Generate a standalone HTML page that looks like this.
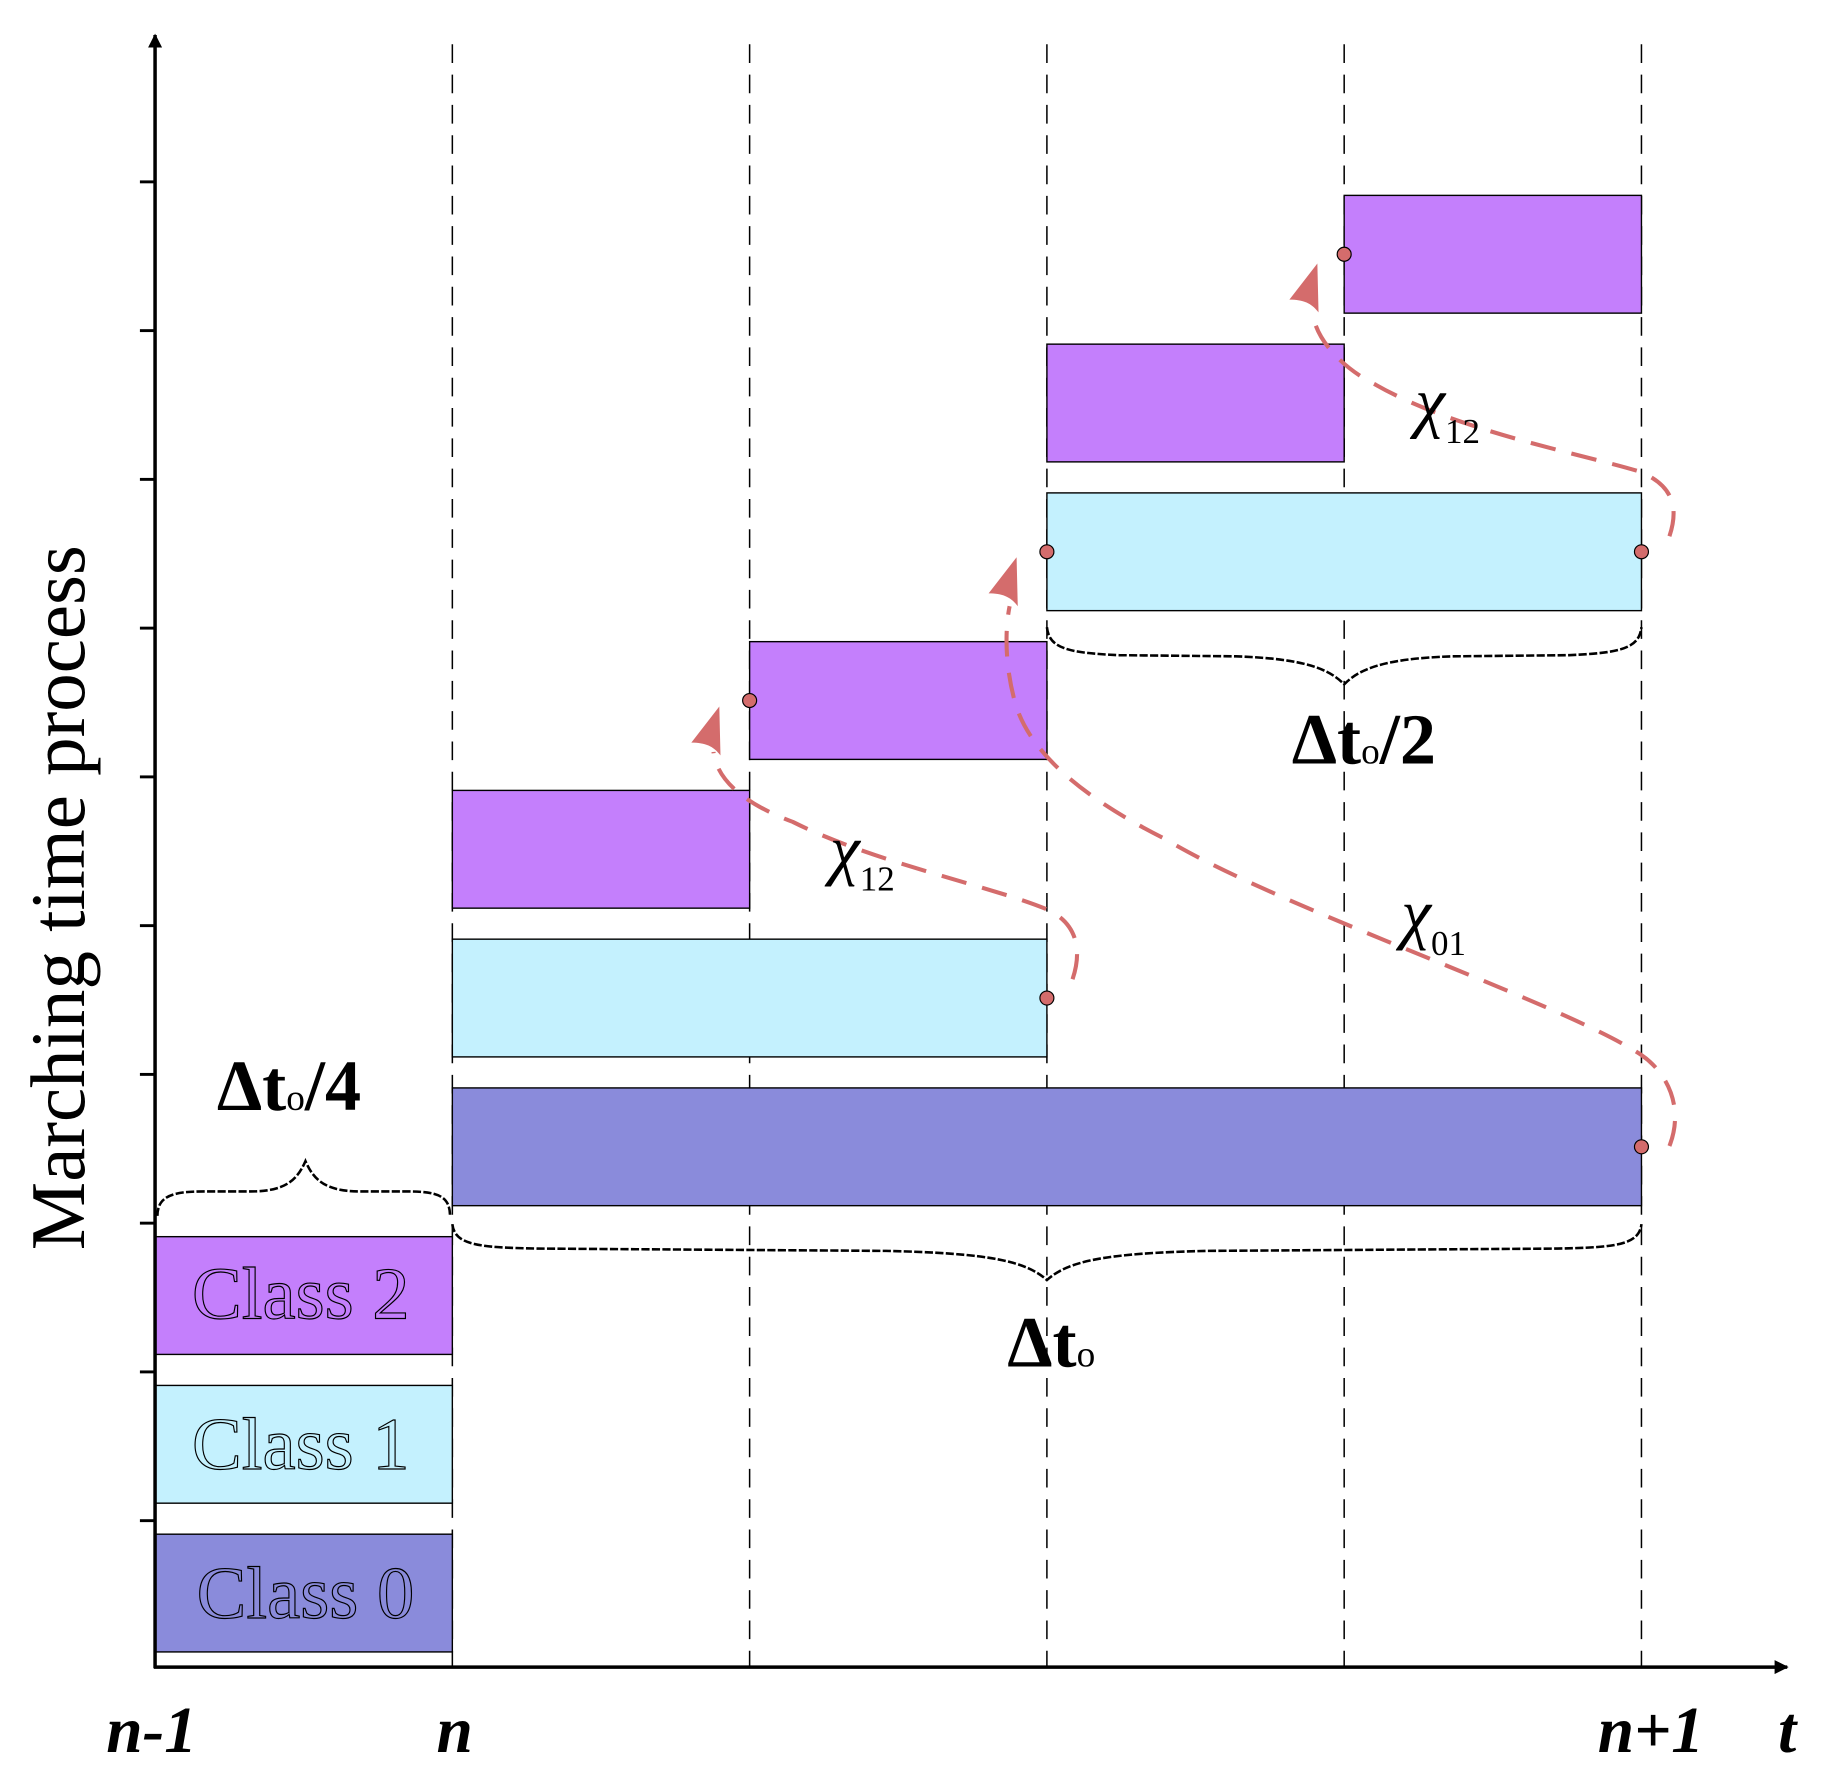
<!DOCTYPE html>
<html><head><meta charset="utf-8">
<style>html,body{margin:0;padding:0;background:#fff;}svg{display:block;}</style>
</head><body>
<svg id="chart" width="1828" height="1779" viewBox="0 0 1568 1526" xmlns="http://www.w3.org/2000/svg" font-family="Liberation Serif, serif">
<defs>
<marker id="arr" viewBox="0 0 10 10" refX="9" refY="5" markerWidth="12" markerHeight="12" markerUnits="userSpaceOnUse" orient="auto"><path d="M0,0L10,5L0,10z" fill="#000"/></marker>
</defs>
<g id="grid"></g>
<g id="bars"></g>
<g id="braces" fill="none" stroke="#000" stroke-width="2.2" stroke-dasharray="7,2">
<path d="M135,1043 C135,1025 150,1022 175,1022 L215,1022 C245,1022 255,1012 262,996 C269,1012 279,1022 309,1022 L349,1022 C374,1022 386,1025 386,1043"/>
<path d="M388,1050 C390,1068 410,1070 460,1071 L760,1073 C850,1075 880,1082 898,1098 C916,1082 946,1075 1036,1073 L1336,1071 C1386,1070 1406,1068 1408,1050"/>
<path d="M898,538 C900,556 915,560 960,562 L1060,563 C1120,565 1140,574 1153,587 C1166,574 1186,565 1246,563 L1346,562 C1391,560 1406,556 1408,538"/>
</g>
<g fill="none" stroke="#d46c6c" stroke-width="3.5" stroke-dasharray="22,14">
<path d="M1432,983 C1445,950 1430,920 1408,905 C1340,860 1100,780 1000,720 C920,680 880,640 870,600 C862,570 862,540 866,520"/>
<path d="M920,840 C930,810 920,790 898,780 C850,760 750,740 680,705 C640,690 615,670 612,645"/>
<path d="M1432,460 C1442,430 1430,415 1408,405 C1360,390 1250,370 1180,330 C1150,315 1128,290 1126,268"/>
</g>
<g fill="#d46c6c">
<path d="M872,478 L873,520 C867,512 860,509 848,509 Z"/>
<path d="M617,606 L618,648 C612,640 605,637 593,637 Z"/>
<path d="M1130,226 L1131,268 C1125,260 1118,257 1106,257 Z"/>
</g>
<g id="dots"></g>
<g stroke="#000" stroke-width="3">
<line x1="133" y1="1431" x2="133" y2="30" marker-end="url(#arr)"/>
<line x1="132" y1="1430" x2="1533" y2="1430" marker-end="url(#arr)"/>
</g>
<g id="ticks"></g>
<text transform="translate(72,770) rotate(-90)" text-anchor="middle" font-size="66">Marching time process</text>
<g font-size="56" font-style="italic" font-weight="bold" text-anchor="middle">
<text x="130" y="1503">n-1</text>
<text x="390" y="1503">n</text>
<text x="1416" y="1503">n+1</text>
<text x="1533" y="1503">t</text>
</g>
<g font-size="64" text-anchor="middle" stroke="#000" stroke-width="1">
<text x="258" y="1131" fill="#c47ffc">Class 2</text>
<text x="258" y="1260" fill="#c4f1fe">Class 1</text>
<text x="262" y="1388" fill="#8a8bdb">Class 0</text>
</g>
<g font-weight="bold" font-size="62">
<text x="186" y="952">Δt<tspan font-size="32" font-weight="normal">o</tspan>/4</text>
<text x="864" y="1172">Δt<tspan font-size="32" font-weight="normal">o</tspan></text>
<text x="1108" y="655">Δt<tspan font-size="32" font-weight="normal">o</tspan>/2</text>
</g>
<g font-style="italic" font-size="58">
<text x="712" y="748">χ<tspan font-style="normal" font-size="30" dy="16">12</tspan></text>
<text x="1214" y="364">χ<tspan font-style="normal" font-size="30" dy="16">12</tspan></text>
<text x="1202" y="803">χ<tspan font-style="normal" font-size="30" dy="16">01</tspan></text>
</g>
</svg>
<script>
// data
const gridCols = [1, 2, 3, 4, 5];
const yTicks = [1, 2, 3, 4, 5, 6, 7, 8, 9, 10];
const barClass = [0, 1, 2, 0, 1, 2, 2, 1, 2, 2];
const barLevel = [0, 1, 2, 3, 4, 5, 6, 7, 8, 9];
const barStart = [0, 0, 0, 1, 1, 1, 2, 3, 3, 4];
const barEnd   = [1, 1, 1, 5, 3, 2, 3, 5, 4, 5];
const dotCol   = [5, 3, 2, 3, 5, 4];
const dotLevel = [3, 4, 6, 7, 7, 9];

const NS = 'http://www.w3.org/2000/svg';
const X = c => 133 + c * 255;
const Y = l => 1417 - l * 127.6;
const colors = ['#8a8bdb', '#c4f1fe', '#c47ffc'];
const H = 101;

const grid = document.getElementById('grid');
gridCols.forEach(c => {
  const l = document.createElementNS(NS, 'line');
  
  
  l.setAttribute('x1', X(c)); l.setAttribute('x2', X(c));
  l.setAttribute('y1', 38); l.setAttribute('y2', 1430);
  l.setAttribute('stroke', '#000'); l.setAttribute('stroke-width', 1.3);
  l.setAttribute('stroke-dasharray', '16,10');
  grid.appendChild(l);
});
const bars = document.getElementById('bars');
barClass.forEach((k, i) => {
  const r = document.createElementNS(NS, 'rect');
  
  
  r.setAttribute('x', X(barStart[i])); r.setAttribute('width', X(barEnd[i]) - X(barStart[i]));
  r.setAttribute('y', Y(barLevel[i]) - H); r.setAttribute('height', H);
  r.setAttribute('fill', colors[k]); r.setAttribute('stroke', '#000'); r.setAttribute('stroke-width', 1.2);
  bars.appendChild(r);
});
const dots = document.getElementById('dots');
dotCol.forEach((c, i) => {
  const d = document.createElementNS(NS, 'circle');
  
  
  d.setAttribute('cx', X(c)); d.setAttribute('cy', Y(dotLevel[i]) - H / 2); d.setAttribute('r', 6);
  d.setAttribute('fill', '#d46c6c'); d.setAttribute('stroke', '#000'); d.setAttribute('stroke-width', 1);
  dots.appendChild(d);
});
const ticks = document.getElementById('ticks');
yTicks.forEach(t => {
  const l = document.createElementNS(NS, 'line');
  
  
  const y = 1430 - t * 127.6 + 2;
  l.setAttribute('x1', 120); l.setAttribute('x2', 133);
  l.setAttribute('y1', y); l.setAttribute('y2', y);
  l.setAttribute('stroke', '#000'); l.setAttribute('stroke-width', 2.5);
  ticks.appendChild(l);
});
</script>
</body></html>
